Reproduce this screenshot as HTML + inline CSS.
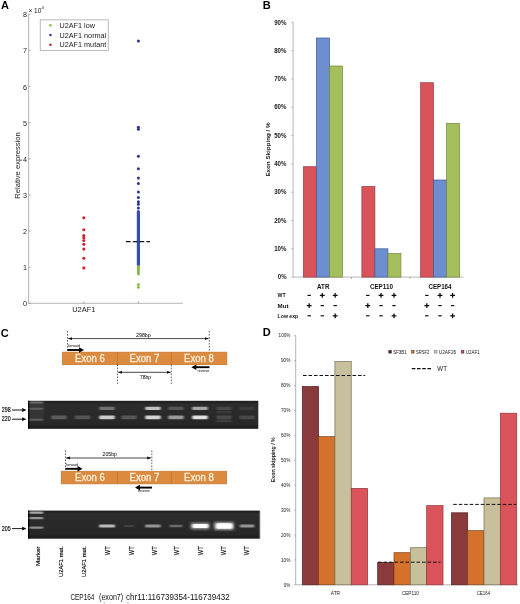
<!DOCTYPE html>
<html lang="en">
<head>
<meta charset="utf-8">
<title>U2AF1 exon skipping figure</title>
<style>
html,body{margin:0;padding:0;background:#fff;}
body{width:520px;height:604px;overflow:hidden;font-family:"Liberation Sans",Arial,sans-serif;}
svg{display:block;filter:blur(0.32px);}
svg text{font-family:"Liberation Sans",Arial,sans-serif;}
</style>
</head>
<body>
<svg width="520" height="604" viewBox="0 0 520 604">
<rect width="520" height="604" fill="#fff"/>
<g id="panelA">
<text x="0.9" y="9.1" font-size="11" text-anchor="start" font-weight="bold" fill="#000" >A</text>
<path d="M28.6 14.3V303.3H183" fill="none" stroke="#8e8e8e" stroke-width="0.65"/>
<path d="M28.6 303.3h2" stroke="#8a8a8a" stroke-width="0.7"/>
<text x="27" y="306.2" font-size="7.2" text-anchor="end" font-weight="normal" fill="#222" >0</text>
<path d="M28.6 267.2h2" stroke="#8a8a8a" stroke-width="0.7"/>
<text x="27" y="270.1" font-size="7.2" text-anchor="end" font-weight="normal" fill="#222" >1</text>
<path d="M28.6 231.1h2" stroke="#8a8a8a" stroke-width="0.7"/>
<text x="27" y="234.0" font-size="7.2" text-anchor="end" font-weight="normal" fill="#222" >2</text>
<path d="M28.6 194.9h2" stroke="#8a8a8a" stroke-width="0.7"/>
<text x="27" y="197.8" font-size="7.2" text-anchor="end" font-weight="normal" fill="#222" >3</text>
<path d="M28.6 158.8h2" stroke="#8a8a8a" stroke-width="0.7"/>
<text x="27" y="161.7" font-size="7.2" text-anchor="end" font-weight="normal" fill="#222" >4</text>
<path d="M28.6 122.7h2" stroke="#8a8a8a" stroke-width="0.7"/>
<text x="27" y="125.6" font-size="7.2" text-anchor="end" font-weight="normal" fill="#222" >5</text>
<path d="M28.6 86.6h2" stroke="#8a8a8a" stroke-width="0.7"/>
<text x="27" y="89.5" font-size="7.2" text-anchor="end" font-weight="normal" fill="#222" >6</text>
<path d="M28.6 50.4h2" stroke="#8a8a8a" stroke-width="0.7"/>
<text x="27" y="53.3" font-size="7.2" text-anchor="end" font-weight="normal" fill="#222" >7</text>
<path d="M28.6 14.3h2" stroke="#8a8a8a" stroke-width="0.7"/>
<text x="27" y="17.2" font-size="7.2" text-anchor="end" font-weight="normal" fill="#222" >8</text>
<path d="M83.8 303.3v-2" stroke="#8a8a8a" stroke-width="0.7"/>
<path d="M138.4 303.3v-2" stroke="#8a8a8a" stroke-width="0.7"/>
<text x="28.4" y="12.9" font-size="6.6" text-anchor="start" font-weight="normal" fill="#222" >× 10</text>
<text x="41.6" y="8.6" font-size="4.4" text-anchor="start" font-weight="normal" fill="#222" >4</text>
<text x="19.6" y="165.5" font-size="7.6" text-anchor="middle" font-weight="normal" fill="#222" transform="rotate(-90 19.6 165.5)" >Relative expression</text>
<text x="83.8" y="311.6" font-size="7.4" text-anchor="middle" font-weight="normal" fill="#222" >U2AF1</text>
<rect x="40.2" y="19.9" width="68" height="30.4" fill="#fff" stroke="#9a9a9a" stroke-width="0.7"/>
<circle cx="50.5" cy="25.20" r="1.25" fill="#8fc046"/>
<text x="59.5" y="27.8" font-size="7.25" text-anchor="start" font-weight="normal" fill="#222" >U2AF1 low</text>
<circle cx="50.5" cy="34.95" r="1.25" fill="#2b3590"/>
<text x="59.5" y="37.55" font-size="7.25" text-anchor="start" font-weight="normal" fill="#222" >U2AF1 normal</text>
<circle cx="50.5" cy="44.70" r="1.25" fill="#c8202c"/>
<text x="59.5" y="47.3" font-size="7.25" text-anchor="start" font-weight="normal" fill="#222" >U2AF1 mutant</text>
<circle cx="83.8" cy="217.8" r="1.55" fill="#cf2233"/>
<circle cx="83.8" cy="229.7" r="1.55" fill="#cf2233"/>
<circle cx="83.8" cy="235.6" r="1.55" fill="#cf2233"/>
<circle cx="83.8" cy="237.8" r="1.55" fill="#cf2233"/>
<circle cx="83.8" cy="240.5" r="1.55" fill="#cf2233"/>
<circle cx="83.8" cy="244.2" r="1.55" fill="#cf2233"/>
<circle cx="83.8" cy="249.1" r="1.55" fill="#cf2233"/>
<circle cx="83.8" cy="258.2" r="1.55" fill="#cf2233"/>
<circle cx="83.8" cy="267.9" r="1.55" fill="#cf2233"/>
<circle cx="138.4" cy="40.9" r="1.5" fill="#2b3590"/>
<circle cx="138.4" cy="127.2" r="1.5" fill="#2b3590"/>
<circle cx="138.4" cy="129.2" r="1.5" fill="#2b3590"/>
<circle cx="138.4" cy="156.2" r="1.5" fill="#2b3590"/>
<circle cx="138.4" cy="168.8" r="1.5" fill="#2b3590"/>
<circle cx="138.4" cy="178" r="1.5" fill="#2b3590"/>
<circle cx="138.4" cy="183.4" r="1.5" fill="#2b3590"/>
<circle cx="138.4" cy="192" r="1.5" fill="#2b3590"/>
<circle cx="138.4" cy="197.4" r="1.5" fill="#2b3590"/>
<circle cx="138.4" cy="201.7" r="1.5" fill="#2b3590"/>
<circle cx="138.4" cy="204.2" r="1.5" fill="#2b3590"/>
<circle cx="138.4" cy="207.9" r="1.5" fill="#2b3590"/>
<path d="M138.4 211.5V265" stroke="#3350b0" stroke-width="3.2" stroke-linecap="round"/>
<path d="M138.4 266.5V274" stroke="#86b848" stroke-width="2.8" stroke-linecap="round"/>
<circle cx="138.4" cy="284.6" r="1.5" fill="#8fc046"/>
<circle cx="138.4" cy="287.2" r="1.5" fill="#8fc046"/>
<path d="M126 241.6H150" stroke="#111" stroke-width="1.1" stroke-dasharray="4.6 2.2"/>
</g>
<g id="panelB">
<text x="262.7" y="9.4" font-size="11" text-anchor="start" font-weight="bold" fill="#000" >B</text>
<path d="M293.1 22.1V277.1H463.5" fill="none" stroke="#9a9a9a" stroke-width="0.7"/>
<path d="M291.5 277.1h1.6" stroke="#8c8c8c" stroke-width="0.7"/>
<text x="286.5" y="279.2" font-size="6.4" text-anchor="end" font-weight="bold" fill="#1a1a1a" textLength="8.7" lengthAdjust="spacingAndGlyphs" >0%</text>
<path d="M291.5 248.8h1.6" stroke="#8c8c8c" stroke-width="0.7"/>
<text x="286.5" y="250.9" font-size="6.4" text-anchor="end" font-weight="bold" fill="#1a1a1a" textLength="12.3" lengthAdjust="spacingAndGlyphs" >10%</text>
<path d="M291.5 220.5h1.6" stroke="#8c8c8c" stroke-width="0.7"/>
<text x="286.5" y="222.6" font-size="6.4" text-anchor="end" font-weight="bold" fill="#1a1a1a" textLength="12.3" lengthAdjust="spacingAndGlyphs" >20%</text>
<path d="M291.5 192.2h1.6" stroke="#8c8c8c" stroke-width="0.7"/>
<text x="286.5" y="194.3" font-size="6.4" text-anchor="end" font-weight="bold" fill="#1a1a1a" textLength="12.3" lengthAdjust="spacingAndGlyphs" >30%</text>
<path d="M291.5 163.9h1.6" stroke="#8c8c8c" stroke-width="0.7"/>
<text x="286.5" y="166.0" font-size="6.4" text-anchor="end" font-weight="bold" fill="#1a1a1a" textLength="12.3" lengthAdjust="spacingAndGlyphs" >40%</text>
<path d="M291.5 135.6h1.6" stroke="#8c8c8c" stroke-width="0.7"/>
<text x="286.5" y="137.7" font-size="6.4" text-anchor="end" font-weight="bold" fill="#1a1a1a" textLength="12.3" lengthAdjust="spacingAndGlyphs" >50%</text>
<path d="M291.5 107.3h1.6" stroke="#8c8c8c" stroke-width="0.7"/>
<text x="286.5" y="109.4" font-size="6.4" text-anchor="end" font-weight="bold" fill="#1a1a1a" textLength="12.3" lengthAdjust="spacingAndGlyphs" >60%</text>
<path d="M291.5 79.0h1.6" stroke="#8c8c8c" stroke-width="0.7"/>
<text x="286.5" y="81.1" font-size="6.4" text-anchor="end" font-weight="bold" fill="#1a1a1a" textLength="12.3" lengthAdjust="spacingAndGlyphs" >70%</text>
<path d="M291.5 50.7h1.6" stroke="#8c8c8c" stroke-width="0.7"/>
<text x="286.5" y="52.8" font-size="6.4" text-anchor="end" font-weight="bold" fill="#1a1a1a" textLength="12.3" lengthAdjust="spacingAndGlyphs" >80%</text>
<path d="M291.5 22.4h1.6" stroke="#8c8c8c" stroke-width="0.7"/>
<text x="286.5" y="24.5" font-size="6.4" text-anchor="end" font-weight="bold" fill="#1a1a1a" textLength="12.3" lengthAdjust="spacingAndGlyphs" >90%</text>
<path d="M351.5 277.1v1.8" stroke="#8c8c8c" stroke-width="0.7"/>
<path d="M410 277.1v1.8" stroke="#8c8c8c" stroke-width="0.7"/>
<text x="269.7" y="149.5" font-size="5.7" text-anchor="middle" font-weight="bold" fill="#222" textLength="54.2" lengthAdjust="spacingAndGlyphs" transform="rotate(-90 269.7 149.5)" >Exon Skipping / %</text>
<rect x="303.4" y="166.7" width="13.0" height="110.4" fill="#d9535b" stroke="#9c3a42" stroke-width="0.7"/>
<rect x="316.4" y="38.0" width="13.0" height="239.1" fill="#6d8fd0" stroke="#3d5a96" stroke-width="0.7"/>
<rect x="329.4" y="66.0" width="13.0" height="211.1" fill="#a5bf5c" stroke="#70873a" stroke-width="0.7"/>
<text x="323.2" y="289.2" font-size="6.8" text-anchor="middle" font-weight="bold" fill="#111" textLength="12.4" lengthAdjust="spacingAndGlyphs" >ATR</text>
<rect x="361.9" y="186.5" width="13.0" height="90.6" fill="#d9535b" stroke="#9c3a42" stroke-width="0.7"/>
<rect x="374.9" y="248.8" width="13.0" height="28.3" fill="#6d8fd0" stroke="#3d5a96" stroke-width="0.7"/>
<rect x="387.9" y="253.6" width="13.0" height="23.5" fill="#a5bf5c" stroke="#70873a" stroke-width="0.7"/>
<text x="381.4" y="289.2" font-size="6.8" text-anchor="middle" font-weight="bold" fill="#111" textLength="23" lengthAdjust="spacingAndGlyphs" >CEP110</text>
<rect x="420.6" y="82.7" width="13.0" height="194.4" fill="#d9535b" stroke="#9c3a42" stroke-width="0.7"/>
<rect x="433.6" y="180.0" width="13.0" height="97.1" fill="#6d8fd0" stroke="#3d5a96" stroke-width="0.7"/>
<rect x="446.6" y="123.4" width="13.0" height="153.7" fill="#a5bf5c" stroke="#70873a" stroke-width="0.7"/>
<text x="440" y="289.2" font-size="6.8" text-anchor="middle" font-weight="bold" fill="#111" textLength="23" lengthAdjust="spacingAndGlyphs" >CEP164</text>
<text x="277.6" y="297.4" font-size="6" text-anchor="start" font-weight="bold" fill="#111" textLength="8" lengthAdjust="spacingAndGlyphs" >WT</text>
<path d="M307.5 295.4h3.4" stroke="#0a0a0a" stroke-width="1.15"/>
<path d="M319.90000000000003 295.4h4.8M322.3 293.0v4.8" stroke="#0a0a0a" stroke-width="1.25"/>
<path d="M332.8 295.4h4.8M335.2 293.0v4.8" stroke="#0a0a0a" stroke-width="1.25"/>
<path d="M366.1 295.4h3.4" stroke="#0a0a0a" stroke-width="1.15"/>
<path d="M378.6 295.4h4.8M381 293.0v4.8" stroke="#0a0a0a" stroke-width="1.25"/>
<path d="M391.6 295.4h4.8M394 293.0v4.8" stroke="#0a0a0a" stroke-width="1.25"/>
<path d="M425.1 295.4h3.4" stroke="#0a0a0a" stroke-width="1.15"/>
<path d="M437.6 295.4h4.8M440 293.0v4.8" stroke="#0a0a0a" stroke-width="1.25"/>
<path d="M450.20000000000005 295.4h4.8M452.6 293.0v4.8" stroke="#0a0a0a" stroke-width="1.25"/>
<text x="277.6" y="307.6" font-size="6" text-anchor="start" font-weight="bold" fill="#111" textLength="11" lengthAdjust="spacingAndGlyphs" >Mut</text>
<path d="M306.8 305.6h4.8M309.2 303.20000000000005v4.8" stroke="#0a0a0a" stroke-width="1.25"/>
<path d="M320.6 305.6h3.4" stroke="#0a0a0a" stroke-width="1.15"/>
<path d="M333.5 305.6h3.4" stroke="#0a0a0a" stroke-width="1.15"/>
<path d="M365.40000000000003 305.6h4.8M367.8 303.20000000000005v4.8" stroke="#0a0a0a" stroke-width="1.25"/>
<path d="M379.3 305.6h3.4" stroke="#0a0a0a" stroke-width="1.15"/>
<path d="M392.3 305.6h3.4" stroke="#0a0a0a" stroke-width="1.15"/>
<path d="M424.40000000000003 305.6h4.8M426.8 303.20000000000005v4.8" stroke="#0a0a0a" stroke-width="1.25"/>
<path d="M438.3 305.6h3.4" stroke="#0a0a0a" stroke-width="1.15"/>
<path d="M450.90000000000003 305.6h3.4" stroke="#0a0a0a" stroke-width="1.15"/>
<text x="277.6" y="317.8" font-size="6" text-anchor="start" font-weight="bold" fill="#111" textLength="20.6" lengthAdjust="spacingAndGlyphs" >Low exp</text>
<path d="M307.5 315.8h3.4" stroke="#0a0a0a" stroke-width="1.15"/>
<path d="M320.6 315.8h3.4" stroke="#0a0a0a" stroke-width="1.15"/>
<path d="M332.8 315.8h4.8M335.2 313.40000000000003v4.8" stroke="#0a0a0a" stroke-width="1.25"/>
<path d="M366.1 315.8h3.4" stroke="#0a0a0a" stroke-width="1.15"/>
<path d="M379.3 315.8h3.4" stroke="#0a0a0a" stroke-width="1.15"/>
<path d="M391.6 315.8h4.8M394 313.40000000000003v4.8" stroke="#0a0a0a" stroke-width="1.25"/>
<path d="M425.1 315.8h3.4" stroke="#0a0a0a" stroke-width="1.15"/>
<path d="M438.3 315.8h3.4" stroke="#0a0a0a" stroke-width="1.15"/>
<path d="M450.20000000000005 315.8h4.8M452.6 313.40000000000003v4.8" stroke="#0a0a0a" stroke-width="1.25"/>
</g>
<g id="panelC">
<text x="0.8" y="337" font-size="11" text-anchor="start" font-weight="bold" fill="#000" >C</text>
<defs><marker id="ah" viewBox="0 0 6 6" refX="5.6" refY="3" markerUnits="userSpaceOnUse" preserveAspectRatio="none" markerWidth="4.2" markerHeight="3.5" orient="auto-start-reverse"><path d="M0 0.4L6 3L0 5.6z" fill="#111"/></marker></defs>
<rect x="62.5" y="352.2" width="164.3" height="12.400000000000034" fill="#dc8a3e" stroke="#c47a32" stroke-width="0.8"/>
<path d="M117.5 352.2V364.6" stroke="#b8702c" stroke-width="0.7"/>
<path d="M171.3 352.2V364.6" stroke="#b8702c" stroke-width="0.7"/>
<text x="90" y="361.8" font-size="10" text-anchor="middle" font-weight="normal" fill="#fcefe0" textLength="29.8" lengthAdjust="spacingAndGlyphs" stroke="#fcefe0" stroke-width="0.3">Exon 6</text>
<text x="144.4" y="361.8" font-size="10" text-anchor="middle" font-weight="normal" fill="#fcefe0" textLength="29.8" lengthAdjust="spacingAndGlyphs" stroke="#fcefe0" stroke-width="0.3">Exon 7</text>
<text x="199" y="361.8" font-size="10" text-anchor="middle" font-weight="normal" fill="#fcefe0" textLength="29.8" lengthAdjust="spacingAndGlyphs" stroke="#fcefe0" stroke-width="0.3">Exon 8</text>
<path d="M67.5 331V352M209.3 331V352M117.5 364.6V384M171.3 364.6V384" stroke="#222" stroke-width="0.7" stroke-dasharray="1.6 1.4"/>
<path d="M68.3 338.6H208.5" stroke="#1a1a1a" stroke-width="0.8" marker-start="url(#ah)" marker-end="url(#ah)"/>
<path d="M118.3 372.3H170.5" stroke="#1a1a1a" stroke-width="0.8" marker-start="url(#ah)" marker-end="url(#ah)"/>
<text x="136" y="336.7" font-size="5.2" text-anchor="start" font-weight="normal" fill="#000" textLength="14.8" lengthAdjust="spacingAndGlyphs" >298bp</text>
<text x="140" y="379.2" font-size="5.2" text-anchor="start" font-weight="normal" fill="#000" textLength="11" lengthAdjust="spacingAndGlyphs" >78bp</text>
<path d="M67.5 350H80" stroke="#000" stroke-width="1.9"/>
<path d="M84 350l-5 -2.8v5.6z" fill="#000"/>
<text x="68.3" y="347.2" font-size="3.1" text-anchor="start" font-weight="normal" fill="#000" textLength="11.8" lengthAdjust="spacingAndGlyphs" >forward</text>
<path d="M209.5 367.2H195.3" stroke="#000" stroke-width="1.9"/>
<path d="M191.3 367.2l5 -2.8v5.6z" fill="#000"/>
<text x="197.5" y="371.8" font-size="3.1" text-anchor="start" font-weight="normal" fill="#000" textLength="11.8" lengthAdjust="spacingAndGlyphs" >reverse</text>
<rect x="61.3" y="471.3" width="165.10000000000002" height="12.5" fill="#dc8a3e" stroke="#c47a32" stroke-width="0.8"/>
<path d="M117.5 471.3V483.8" stroke="#b8702c" stroke-width="0.7"/>
<path d="M171.3 471.3V483.8" stroke="#b8702c" stroke-width="0.7"/>
<text x="90" y="480.9" font-size="10" text-anchor="middle" font-weight="normal" fill="#fcefe0" textLength="29.8" lengthAdjust="spacingAndGlyphs" stroke="#fcefe0" stroke-width="0.3">Exon 6</text>
<text x="144.4" y="480.9" font-size="10" text-anchor="middle" font-weight="normal" fill="#fcefe0" textLength="29.8" lengthAdjust="spacingAndGlyphs" stroke="#fcefe0" stroke-width="0.3">Exon 7</text>
<text x="199" y="480.9" font-size="10" text-anchor="middle" font-weight="normal" fill="#fcefe0" textLength="29.8" lengthAdjust="spacingAndGlyphs" stroke="#fcefe0" stroke-width="0.3">Exon 8</text>
<path d="M65.5 450.5V471.3M151.8 450.5V471.3" stroke="#222" stroke-width="0.7" stroke-dasharray="1.6 1.4"/>
<path d="M66.3 458H151" stroke="#1a1a1a" stroke-width="0.8" marker-start="url(#ah)" marker-end="url(#ah)"/>
<text x="102.5" y="456.3" font-size="5.2" text-anchor="start" font-weight="normal" fill="#000" textLength="14.4" lengthAdjust="spacingAndGlyphs" >205bp</text>
<path d="M65.5 468.8H78.5" stroke="#000" stroke-width="1.9"/>
<path d="M82.5 468.8l-5 -2.8v5.6z" fill="#000"/>
<text x="66.3" y="466" font-size="3.1" text-anchor="start" font-weight="normal" fill="#000" textLength="11.8" lengthAdjust="spacingAndGlyphs" >forward</text>
<path d="M152 487.6H139" stroke="#000" stroke-width="1.9"/>
<path d="M135 487.6l5 -2.8v5.6z" fill="#000"/>
<text x="138" y="492.2" font-size="3.1" text-anchor="start" font-weight="normal" fill="#000" textLength="11.8" lengthAdjust="spacingAndGlyphs" >reverse</text>
<defs><filter id="bl" x="-30%" y="-150%" width="160%" height="400%"><feGaussianBlur stdDeviation="1.1 0.75"/></filter><filter id="bl2" x="-30%" y="-150%" width="160%" height="400%"><feGaussianBlur stdDeviation="0.9 0.6"/></filter><filter id="bl3" x="-30%" y="-150%" width="160%" height="400%"><feGaussianBlur stdDeviation="1.6 1.3"/></filter><linearGradient id="gg" x1="0" y1="0" x2="0" y2="1"><stop offset="0" stop-color="#1a1a1a"/><stop offset="0.12" stop-color="#2c2c2c"/><stop offset="0.85" stop-color="#272727"/><stop offset="1" stop-color="#181818"/></linearGradient></defs>
<rect x="28" y="400.8" width="230.3" height="28.0" fill="url(#gg)"/>
<rect x="28" y="400.8" width="1.3" height="28.0" fill="#050505"/>
<rect x="29.3" y="401.60" width="14" height="2" rx="1" fill="#fff" opacity="0.3" filter="url(#bl2)"/>
<rect x="29.3" y="407.80" width="14" height="2" rx="1" fill="#fff" opacity="0.2" filter="url(#bl2)"/>
<rect x="29.3" y="418.80" width="14" height="2" rx="1" fill="#fff" opacity="0.22" filter="url(#bl2)"/>
<rect x="51.2" y="415.40" width="15.5" height="3.8" rx="1" fill="#fff" opacity="0.24" filter="url(#bl)"/>
<rect x="74.8" y="415.40" width="15.5" height="3.8" rx="1" fill="#fff" opacity="0.2" filter="url(#bl)"/>
<rect x="99.2" y="406.80" width="15.5" height="3.2" rx="1" fill="#fff" opacity="0.33" filter="url(#bl)"/>
<rect x="99.2" y="415.40" width="15.5" height="3.8" rx="1" fill="#fff" opacity="0.76" filter="url(#bl)"/>
<rect x="121.2" y="415.40" width="15.5" height="3.8" rx="1" fill="#fff" opacity="0.21" filter="url(#bl)"/>
<rect x="145.2" y="406.80" width="15.5" height="3.2" rx="1" fill="#fff" opacity="0.7" filter="url(#bl)"/>
<rect x="145.2" y="415.40" width="15.5" height="3.8" rx="1" fill="#fff" opacity="0.8" filter="url(#bl)"/>
<rect x="168.2" y="406.80" width="15.5" height="3.2" rx="1" fill="#fff" opacity="0.2" filter="url(#bl)"/>
<rect x="168.2" y="415.40" width="15.5" height="3.8" rx="1" fill="#fff" opacity="0.52" filter="url(#bl)"/>
<rect x="192.2" y="406.80" width="15.5" height="3.2" rx="1" fill="#fff" opacity="0.58" filter="url(#bl)"/>
<rect x="192.2" y="415.40" width="15.5" height="3.8" rx="1" fill="#fff" opacity="0.86" filter="url(#bl)"/>
<rect x="216.2" y="406.80" width="15.5" height="3.2" rx="1" fill="#fff" opacity="0.13" filter="url(#bl)"/>
<rect x="216.2" y="415.40" width="15.5" height="3.8" rx="1" fill="#fff" opacity="0.15" filter="url(#bl)"/>
<rect x="239.2" y="406.80" width="15.5" height="3.2" rx="1" fill="#fff" opacity="0.07" filter="url(#bl)"/>
<rect x="239.2" y="415.40" width="15.5" height="3.8" rx="1" fill="#fff" opacity="0.15" filter="url(#bl)"/>
<rect x="216.5" y="410.80" width="15" height="2.4" rx="1" fill="#fff" opacity="0.07" filter="url(#bl)"/>
<rect x="216.5" y="419.70" width="15" height="2.6" rx="1" fill="#fff" opacity="0.1" filter="url(#bl)"/>
<rect x="28.8" y="401.00" width="15" height="20" rx="1" fill="#fff" opacity="0.05" filter="url(#bl3)"/>
<rect x="28" y="510.6" width="231.9" height="28.0" fill="url(#gg)"/>
<rect x="28" y="510.6" width="1.3" height="28.0" fill="#050505"/>
<path d="M259.9 511.5V538.4" stroke="#8a8a8a" stroke-width="0.8"/><path d="M29 538.5H260" stroke="#555" stroke-width="0.5"/>
<rect x="29.3" y="511.50" width="14" height="2.2" rx="1" fill="#fff" opacity="0.6" filter="url(#bl2)"/>
<rect x="29.3" y="517.10" width="14" height="2.2" rx="1" fill="#fff" opacity="0.5" filter="url(#bl2)"/>
<rect x="29.3" y="526.50" width="14" height="2.2" rx="1" fill="#fff" opacity="0.48" filter="url(#bl2)"/>
<rect x="99.0" y="524.40" width="16" height="3.2" rx="1" fill="#fff" opacity="0.68" filter="url(#bl)"/>
<rect x="124.0" y="525.10" width="10" height="1.8" rx="1" fill="#fff" opacity="0.12" filter="url(#bl)"/>
<rect x="145.2" y="524.50" width="15.5" height="3" rx="1" fill="#fff" opacity="0.5" filter="url(#bl)"/>
<rect x="169.5" y="524.80" width="13" height="2.4" rx="1" fill="#fff" opacity="0.3" filter="url(#bl)"/>
<rect x="190.8" y="522.75" width="18.5" height="6.5" rx="1" fill="#fff" opacity="0.55" filter="url(#bl3)"/>
<rect x="214.2" y="522.00" width="19.5" height="8" rx="1" fill="#fff" opacity="0.6" filter="url(#bl3)"/>
<rect x="239.8" y="524.50" width="14.5" height="3" rx="1" fill="#fff" opacity="0.5" filter="url(#bl)"/>
<rect x="192.4" y="523.9" width="16" height="4.2" rx="2" fill="#fff" filter="url(#bl2)"/>
<rect x="216" y="523.2" width="16.6" height="5.6" rx="2.6" fill="#fff" filter="url(#bl2)"/>
<text x="1.8" y="412.2" font-size="6.4" text-anchor="start" font-weight="normal" fill="#000" textLength="8.8" lengthAdjust="spacingAndGlyphs" stroke="#000" stroke-width="0.14">298</text>
<path d="M12 410H23" stroke="#000" stroke-width="0.9"/><path d="M26.4 410l-4.2 -1.9v3.8z" fill="#000"/>
<text x="1.8" y="421.4" font-size="6.4" text-anchor="start" font-weight="normal" fill="#000" textLength="8.8" lengthAdjust="spacingAndGlyphs" stroke="#000" stroke-width="0.14">220</text>
<path d="M12 419.2H23" stroke="#000" stroke-width="0.9"/><path d="M26.4 419.2l-4.2 -1.9v3.8z" fill="#000"/>
<text x="1.8" y="530.8" font-size="6.4" text-anchor="start" font-weight="normal" fill="#000" textLength="8.8" lengthAdjust="spacingAndGlyphs" stroke="#000" stroke-width="0.14">205</text>
<path d="M12 528.6H23" stroke="#000" stroke-width="0.9"/><path d="M26.4 528.6l-4.2 -1.9v3.8z" fill="#000"/>
<text x="39.6" y="566" font-size="6.2" text-anchor="start" font-weight="normal" fill="#000" textLength="19.5" lengthAdjust="spacingAndGlyphs" transform="rotate(-90 39.6 566)" stroke="#000" stroke-width="0.15">Marker</text>
<text x="63.4" y="577" font-size="6.2" text-anchor="start" font-weight="normal" fill="#000" textLength="31" lengthAdjust="spacingAndGlyphs" transform="rotate(-90 63.4 577)" stroke="#000" stroke-width="0.15">U2AF1 mut.</text>
<text x="86.2" y="577" font-size="6.2" text-anchor="start" font-weight="normal" fill="#000" textLength="31" lengthAdjust="spacingAndGlyphs" transform="rotate(-90 86.2 577)" stroke="#000" stroke-width="0.15">U2AF1 mut.</text>
<text x="110.4" y="555.2" font-size="6.4" text-anchor="start" font-weight="normal" fill="#000" textLength="9" lengthAdjust="spacingAndGlyphs" transform="rotate(-90 110.4 555.2)" stroke="#000" stroke-width="0.15">WT</text>
<text x="134" y="555.2" font-size="6.4" text-anchor="start" font-weight="normal" fill="#000" textLength="9" lengthAdjust="spacingAndGlyphs" transform="rotate(-90 134 555.2)" stroke="#000" stroke-width="0.15">WT</text>
<text x="156.6" y="555.2" font-size="6.4" text-anchor="start" font-weight="normal" fill="#000" textLength="9" lengthAdjust="spacingAndGlyphs" transform="rotate(-90 156.6 555.2)" stroke="#000" stroke-width="0.15">WT</text>
<text x="179.2" y="555.2" font-size="6.4" text-anchor="start" font-weight="normal" fill="#000" textLength="9" lengthAdjust="spacingAndGlyphs" transform="rotate(-90 179.2 555.2)" stroke="#000" stroke-width="0.15">WT</text>
<text x="202.6" y="555.2" font-size="6.4" text-anchor="start" font-weight="normal" fill="#000" textLength="9" lengthAdjust="spacingAndGlyphs" transform="rotate(-90 202.6 555.2)" stroke="#000" stroke-width="0.15">WT</text>
<text x="226.2" y="555.2" font-size="6.4" text-anchor="start" font-weight="normal" fill="#000" textLength="9" lengthAdjust="spacingAndGlyphs" transform="rotate(-90 226.2 555.2)" stroke="#000" stroke-width="0.15">WT</text>
<text x="248.6" y="555.2" font-size="6.4" text-anchor="start" font-weight="normal" fill="#000" textLength="9" lengthAdjust="spacingAndGlyphs" transform="rotate(-90 248.6 555.2)" stroke="#000" stroke-width="0.15">WT</text>
<text y="600" font-size="8.2" fill="#111"><tspan x="70.4" textLength="24" lengthAdjust="spacingAndGlyphs">CEP164</tspan> <tspan x="99" textLength="24.2" lengthAdjust="spacingAndGlyphs">(exon7)</tspan> <tspan x="126" textLength="103.6" lengthAdjust="spacingAndGlyphs">chr11:116739354-116739432</tspan></text>
<rect x="103.8" y="602" width="1" height="1.2" fill="#999"/><rect x="110.3" y="602.4" width="0.8" height="1" fill="#ccc"/><rect x="127.5" y="602" width="1" height="1.2" fill="#999"/>
</g>
<g id="panelD">
<text x="262.8" y="336.1" font-size="11" text-anchor="start" font-weight="bold" fill="#000" >D</text>
<path d="M295.7 335.3V584.8H518" fill="none" stroke="#7d828a" stroke-width="0.6"/>
<path d="M294.2 584.8h1.5" stroke="#8c8c8c" stroke-width="0.6"/>
<text x="290.4" y="586.5" font-size="5.6" text-anchor="end" font-weight="normal" fill="#1a1a1a" textLength="6.6" lengthAdjust="spacingAndGlyphs" >0%</text>
<path d="M294.2 559.9h1.5" stroke="#8c8c8c" stroke-width="0.6"/>
<text x="290.4" y="561.6" font-size="5.6" text-anchor="end" font-weight="normal" fill="#1a1a1a" textLength="9.4" lengthAdjust="spacingAndGlyphs" >10%</text>
<path d="M294.2 535.0h1.5" stroke="#8c8c8c" stroke-width="0.6"/>
<text x="290.4" y="536.7" font-size="5.6" text-anchor="end" font-weight="normal" fill="#1a1a1a" textLength="9.4" lengthAdjust="spacingAndGlyphs" >20%</text>
<path d="M294.2 510.1h1.5" stroke="#8c8c8c" stroke-width="0.6"/>
<text x="290.4" y="511.8" font-size="5.6" text-anchor="end" font-weight="normal" fill="#1a1a1a" textLength="9.4" lengthAdjust="spacingAndGlyphs" >30%</text>
<path d="M294.2 485.2h1.5" stroke="#8c8c8c" stroke-width="0.6"/>
<text x="290.4" y="486.9" font-size="5.6" text-anchor="end" font-weight="normal" fill="#1a1a1a" textLength="9.4" lengthAdjust="spacingAndGlyphs" >40%</text>
<path d="M294.2 460.2h1.5" stroke="#8c8c8c" stroke-width="0.6"/>
<text x="290.4" y="461.9" font-size="5.6" text-anchor="end" font-weight="normal" fill="#1a1a1a" textLength="9.4" lengthAdjust="spacingAndGlyphs" >50%</text>
<path d="M294.2 435.3h1.5" stroke="#8c8c8c" stroke-width="0.6"/>
<text x="290.4" y="437.0" font-size="5.6" text-anchor="end" font-weight="normal" fill="#1a1a1a" textLength="9.4" lengthAdjust="spacingAndGlyphs" >60%</text>
<path d="M294.2 410.4h1.5" stroke="#8c8c8c" stroke-width="0.6"/>
<text x="290.4" y="412.1" font-size="5.6" text-anchor="end" font-weight="normal" fill="#1a1a1a" textLength="9.4" lengthAdjust="spacingAndGlyphs" >70%</text>
<path d="M294.2 385.5h1.5" stroke="#8c8c8c" stroke-width="0.6"/>
<text x="290.4" y="387.2" font-size="5.6" text-anchor="end" font-weight="normal" fill="#1a1a1a" textLength="9.4" lengthAdjust="spacingAndGlyphs" >80%</text>
<path d="M294.2 360.6h1.5" stroke="#8c8c8c" stroke-width="0.6"/>
<text x="290.4" y="362.3" font-size="5.6" text-anchor="end" font-weight="normal" fill="#1a1a1a" textLength="9.4" lengthAdjust="spacingAndGlyphs" >90%</text>
<path d="M294.2 335.7h1.5" stroke="#8c8c8c" stroke-width="0.6"/>
<text x="290.4" y="337.4" font-size="5.6" text-anchor="end" font-weight="normal" fill="#1a1a1a" textLength="11.8" lengthAdjust="spacingAndGlyphs" >100%</text>
<text x="275.2" y="459.7" font-size="5.2" text-anchor="middle" font-weight="bold" fill="#222" textLength="45" lengthAdjust="spacingAndGlyphs" transform="rotate(-90 275.2 459.7)" >Exon skipping / %</text>
<rect x="302.3" y="386.5" width="16.32" height="198.3" fill="#8b3a3c" stroke="#4e1e20" stroke-width="0.7"/>
<rect x="318.6" y="436.6" width="16.32" height="148.2" fill="#d4722c" stroke="#7e4014" stroke-width="0.7"/>
<rect x="334.9" y="361.6" width="16.32" height="223.2" fill="#c8bf9c" stroke="#746e52" stroke-width="0.7"/>
<rect x="351.3" y="488.4" width="16.32" height="96.4" fill="#da555b" stroke="#96323a" stroke-width="0.7"/>
<text x="335.4" y="595" font-size="5.8" text-anchor="middle" font-weight="normal" fill="#1a1a1a" textLength="9.2" lengthAdjust="spacingAndGlyphs" >ATR</text>
<rect x="377.7" y="562.6" width="16.32" height="22.2" fill="#8b3a3c" stroke="#4e1e20" stroke-width="0.7"/>
<rect x="394.0" y="552.7" width="16.32" height="32.1" fill="#d4722c" stroke="#7e4014" stroke-width="0.7"/>
<rect x="410.3" y="547.7" width="16.32" height="37.1" fill="#c8bf9c" stroke="#746e52" stroke-width="0.7"/>
<rect x="426.7" y="505.6" width="16.32" height="79.2" fill="#da555b" stroke="#96323a" stroke-width="0.7"/>
<text x="410.4" y="595" font-size="5.8" text-anchor="middle" font-weight="normal" fill="#1a1a1a" textLength="17" lengthAdjust="spacingAndGlyphs" >CEP110</text>
<rect x="451.4" y="512.8" width="16.32" height="72.0" fill="#8b3a3c" stroke="#4e1e20" stroke-width="0.7"/>
<rect x="467.7" y="530.7" width="16.32" height="54.1" fill="#d4722c" stroke="#7e4014" stroke-width="0.7"/>
<rect x="484.0" y="497.9" width="16.32" height="86.9" fill="#c8bf9c" stroke="#746e52" stroke-width="0.7"/>
<rect x="500.4" y="413.2" width="16.32" height="171.6" fill="#da555b" stroke="#96323a" stroke-width="0.7"/>
<text x="483.4" y="595" font-size="5.8" text-anchor="middle" font-weight="normal" fill="#1a1a1a" textLength="13.4" lengthAdjust="spacingAndGlyphs" >CE164</text>
<path d="M303 375.5H365.2" stroke="#111" stroke-width="1" stroke-dasharray="3.6 1.9"/>
<path d="M378 562.2H440.6" stroke="#111" stroke-width="1" stroke-dasharray="3.6 1.9"/>
<path d="M453.2 504.4H516.2" stroke="#111" stroke-width="1" stroke-dasharray="3.6 1.9"/>
<rect x="388.8" y="350.5" width="2.5" height="2.6" fill="#6a2a30" stroke="#2a1418" stroke-width="0.55"/>
<text x="393.2" y="353.5" font-size="5.3" text-anchor="start" font-weight="normal" fill="#161616" textLength="13.6" lengthAdjust="spacingAndGlyphs" >SF3B1</text>
<rect x="411.6" y="350.5" width="2.5" height="2.6" fill="#c07a3c" stroke="#5a3a20" stroke-width="0.55"/>
<text x="415.9" y="353.5" font-size="5.3" text-anchor="start" font-weight="normal" fill="#161616" textLength="13.4" lengthAdjust="spacingAndGlyphs" >SRSF2</text>
<rect x="434.5" y="350.5" width="2.5" height="2.6" fill="#d2cdb8" stroke="#77746a" stroke-width="0.55"/>
<text x="438.8" y="353.5" font-size="5.3" text-anchor="start" font-weight="normal" fill="#161616" textLength="17.4" lengthAdjust="spacingAndGlyphs" >U2AF26</text>
<rect x="461.4" y="350.5" width="2.5" height="2.6" fill="#c24a5c" stroke="#5a2230" stroke-width="0.55"/>
<text x="465.7" y="353.5" font-size="5.3" text-anchor="start" font-weight="normal" fill="#161616" textLength="14" lengthAdjust="spacingAndGlyphs" >U2AF1</text>
<path d="M411.8 368.6H431" stroke="#111" stroke-width="1.1" stroke-dasharray="3.6 1.6"/>
<text x="437.3" y="371.4" font-size="8" text-anchor="start" font-weight="normal" fill="#111" textLength="9.6" lengthAdjust="spacingAndGlyphs" >WT</text>
</g>
</svg>
</body>
</html>
